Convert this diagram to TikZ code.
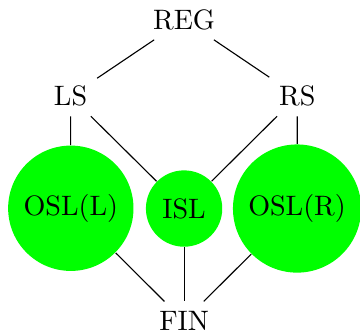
\documentclass[tikz,border=0pt]{standalone}
\usepackage{tikz}
\usepackage{xcolor}

\begin{document}
\begin{tikzpicture}[x=1pt,y=1pt]
\tikzset{lattice node/.style={circle,fill=green,draw=none,inner sep=3.75pt},
         edge/.style={draw,line width=0.4pt}}
    \useasboundingbox (0,0) rectangle (128.1,-118.5);
    \node (reg) at (65.5,-7) {REG};
    \node (ls) at (25.1,-34.2) {LS};
    \node (rs) at (105.8,-34.2) {RS};
    \node[lattice node] (oslL) at (25.2,-74.1) {OSL(L)};
    \node[lattice node] (isl) at (65.5,-74.2) {ISL};
    \node[lattice node] (oslR) at (105.7,-74.2) {OSL(R)};
    \node (fin) at (65.5,-114.2) {FIN};
    \draw[edge] (reg) -- (ls);
    \draw[edge] (reg) -- (rs);
    \draw[edge] (ls) -- (oslL);
    \draw[edge] (ls) -- (isl);
    \draw[edge] (rs) -- (isl);
    \draw[edge] (rs) -- (oslR);
    \draw[edge] (oslL) -- (fin);
    \draw[edge] (isl) -- (fin);
    \draw[edge] (oslR) -- (fin);
\end{tikzpicture}
\end{document}
